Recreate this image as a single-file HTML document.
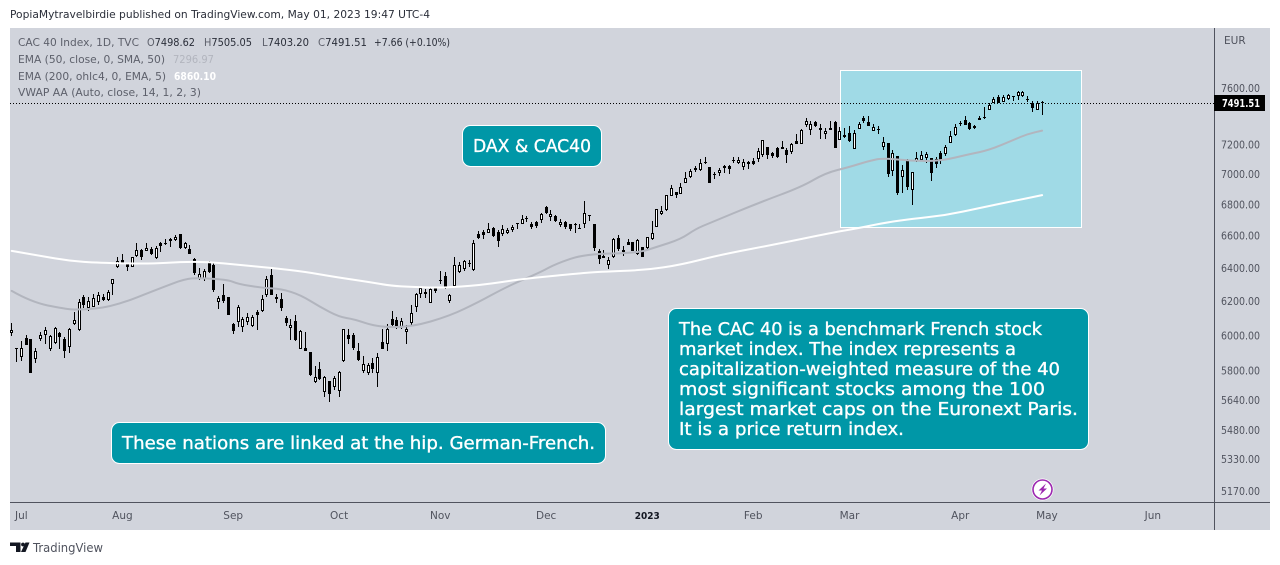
<!DOCTYPE html>
<html lang="en">
<head>
<meta charset="utf-8">
<title>CAC 40 Index chart</title>
<style>
html,body{margin:0;padding:0;background:#fff;width:1280px;height:565px;overflow:hidden}
svg{display:block}
text{font-family:"DejaVu Sans","Liberation Sans",sans-serif}
.callout-text{stroke:#fff;stroke-width:.35px}
</style>
</head>
<body>
<svg id="chart" xmlns="http://www.w3.org/2000/svg" width="1280" height="565" viewBox="0 0 1280 565">
  <defs><clipPath id="plot-clip"><rect x="10" y="28" width="1204" height="474"/></clipPath></defs>
  <text x="10" y="18" font-size="11" fill="#2a2e39" textLength="420" lengthAdjust="spacingAndGlyphs">PopiaMytravelbirdie published on TradingView.com, May 01, 2023 19:47 UTC-4</text>
  <rect x="10" y="28" width="1260" height="502" fill="#d1d4dc"/>
  <rect x="840.5" y="70.5" width="241" height="157" fill="#a0dae6" stroke="#fff" stroke-width="1"/>
  <g id="candles" clip-path="url(#plot-clip)"></g>
  <g id="lines" clip-path="url(#plot-clip)"></g>
  <line id="price-line" x1="10" x2="1214" stroke="#000" stroke-width="1" stroke-dasharray="1 2"/>
  <line x1="1214.5" x2="1214.5" y1="28" y2="530" stroke="#50535e"/>
  <line x1="10" x2="1270" y1="502.5" y2="502.5" stroke="#50535e"/>
  <g id="price-axis"></g>
  <g id="time-axis"></g>
  <text x="1224" y="44" font-size="10.5" fill="#50535e">EUR</text>
  <g id="price-tag"></g>

  <g font-size="11" fill="#5d606b">
    <text x="18" y="46" textLength="121" lengthAdjust="spacingAndGlyphs">CAC 40 Index, 1D, TVC</text>
    <text x="147" y="46" textLength="48" lengthAdjust="spacingAndGlyphs">O<tspan fill="#2a2e39">7498.62</tspan></text>
    <text x="204" y="46" textLength="48" lengthAdjust="spacingAndGlyphs">H<tspan fill="#2a2e39">7505.05</tspan></text>
    <text x="262" y="46" textLength="47" lengthAdjust="spacingAndGlyphs">L<tspan fill="#2a2e39">7403.20</tspan></text>
    <text x="318" y="46" textLength="49" lengthAdjust="spacingAndGlyphs">C<tspan fill="#2a2e39">7491.51</tspan></text>
    <text x="374" y="46" textLength="76" lengthAdjust="spacingAndGlyphs" fill="#2a2e39">+7.66 (+0.10%)</text>
    <text x="18" y="63" textLength="147" lengthAdjust="spacingAndGlyphs">EMA (50, close, 0, SMA, 50)</text>
    <text x="173" y="63" textLength="41" lengthAdjust="spacingAndGlyphs" fill="#b2b5be">7296.97</text>
    <text x="18" y="80" textLength="148" lengthAdjust="spacingAndGlyphs">EMA (200, ohlc4, 0, EMA, 5)</text>
    <text x="174" y="80" textLength="42" lengthAdjust="spacingAndGlyphs" fill="#ffffff" font-weight="bold">6860.10</text>
    <text x="18" y="96" textLength="183" lengthAdjust="spacingAndGlyphs">VWAP AA (Auto, close, 14, 1, 2, 3)</text>
  </g>

  <g>
    <rect x="462.5" y="125.5" width="139" height="41" rx="8" fill="#0097a7" stroke="#fff"/>
    <text class="callout-text" x="473" y="152" font-size="18" fill="#fff" textLength="118" lengthAdjust="spacingAndGlyphs">DAX &amp; CAC40</text>
  </g>
  <g>
    <rect x="111.5" y="422.5" width="494" height="41" rx="8" fill="#0097a7" stroke="#fff"/>
    <text class="callout-text" x="122" y="449" font-size="18" fill="#fff" textLength="473" lengthAdjust="spacingAndGlyphs">These nations are linked at the hip. German-French.</text>
  </g>
  <g font-size="18" fill="#fff">
    <rect x="668.5" y="308.5" width="420" height="141" rx="8" fill="#0097a7" stroke="#fff"/>
    <text class="callout-text" x="679" y="335" textLength="363" lengthAdjust="spacingAndGlyphs">The CAC 40 is a benchmark French stock</text>
    <text class="callout-text" x="679" y="355" textLength="337" lengthAdjust="spacingAndGlyphs">market index. The index represents a</text>
    <text class="callout-text" x="679" y="375" textLength="381" lengthAdjust="spacingAndGlyphs">capitalization-weighted measure of the 40</text>
    <text class="callout-text" x="679" y="395" textLength="366" lengthAdjust="spacingAndGlyphs">most significant stocks among the 100</text>
    <text class="callout-text" x="679" y="415" textLength="399" lengthAdjust="spacingAndGlyphs">largest market caps on the Euronext Paris.</text>
    <text class="callout-text" x="679" y="435" textLength="225" lengthAdjust="spacingAndGlyphs">It is a price return index.</text>
  </g>

  <g>
    <circle cx="1042.5" cy="489.5" r="11" fill="#fff"/>
    <circle cx="1042.5" cy="489.5" r="9.5" fill="#fff" stroke="#9c27b0" stroke-width="1.6"/>
    <polygon points="1046,483.5 1038.5,490.5 1042,490.5 1039.5,495.5 1047,488.5 1043.5,488.5" fill="#9c27b0"/>
  </g>

  <g>
    <polygon points="10,542.5 20.5,542.5 20.5,552 16,552 16,546 10,546" fill="#131722"/>
    <circle cx="23" cy="544.5" r="1.9" fill="#131722"/>
    <polygon points="25.5,542.5 29.5,542.5 25.5,552 21,552" fill="#131722"/>
    <text x="33" y="552" font-size="12" fill="#50535e" textLength="70" lengthAdjust="spacingAndGlyphs">TradingView</text>
  </g>
</svg>
<script>
var opens=[6011,5927,5875,5984,5979,5867,5981,6003,5920,5954,6011,5979,5931,6065,6028,6226,6159,6167,6196,6222,6204,6300,6407,6446,6424,6403,6471,6510,6506,6516,6463,6555,6553,6576,6574,6609,6524,6514,6452,6330,6330,6428,6418,6196,6238,6224,6065,6075,6046,6078,6054,6133,6139,6236,6357,6210,6210,6102,6044,6080,5923,5925,5905,5740,5808,5685,5742,5709,5690,5856,6000,6000,5909,5800,5790,5841,5790,5961,5948,6094,6090,6050,6017,6073,6167,6240,6252,6186,6276,6324,6350,6202,6288,6377,6391,6428,6387,6610,6622,6618,6648,6622,6610,6618,6637,6678,6675,6709,6673,6686,6699,6782,6720,6724,6667,6684,6671,6671,6646,6671,6729,6673,6504,6473,6414,6464,6582,6510,6560,6558,6485,6527,6520,6576,6656,6737,6763,6857,6879,6870,6942,6980,7040,7027,7080,7049,6998,7007,7054,7054,7094,7076,7049,7080,7087,7101,7130,7180,7139,7173,7180,7160,7146,7222,7201,7338,7303,7355,7315,7275,7315,7357,7233,7250,7280,7171,7310,7385,7357,7296,7310,7183,7210,7022,7119,6982,7085,6896,7089,7094,7110,7105,7101,7141,7137,7213,7264,7348,7371,7348,7327,7385,7390,7444,7494,7532,7501,7520,7540,7545,7540,7523,7489,7444,7498.62];
var highs=[6069,5927,5969,6000,5979,5925,6020,6046,6001,6050,6020,5992,6040,6133,6210,6238,6222,6242,6254,6242,6264,6334,6469,6485,6432,6469,6551,6514,6555,6530,6535,6559,6580,6582,6605,6609,6561,6543,6458,6397,6393,6442,6432,6230,6302,6224,6069,6176,6108,6131,6117,6147,6236,6350,6391,6242,6246,6112,6092,6117,6030,6019,5907,5826,5847,5771,5744,5771,5800,6034,6034,6015,5954,5882,5845,5869,5897,6034,6065,6139,6104,6098,6059,6176,6250,6282,6270,6276,6286,6381,6377,6242,6465,6438,6448,6448,6572,6631,6635,6678,6652,6635,6665,6646,6667,6680,6729,6724,6688,6695,6741,6789,6763,6733,6703,6693,6675,6678,6673,6821,6729,6675,6514,6510,6464,6582,6605,6535,6576,6562,6578,6531,6593,6690,6772,6789,6859,6925,6881,6942,7011,7031,7054,7099,7112,7049,7011,7038,7060,7062,7112,7112,7099,7085,7110,7178,7231,7183,7151,7180,7222,7178,7212,7273,7310,7383,7366,7364,7343,7313,7362,7366,7320,7315,7329,7301,7357,7399,7399,7341,7329,7254,7210,7162,7121,7060,7098,7016,7148,7155,7148,7107,7112,7153,7196,7294,7341,7366,7399,7357,7338,7399,7463,7489,7532,7547,7552,7557,7542,7581,7576,7542,7508,7504,7505.05];
var lows=[5996,5851,5856,5944,5788,5845,5969,5950,5912,5950,5922,5873,5901,6059,6026,6157,6143,6163,6178,6198,6202,6238,6401,6428,6383,6403,6469,6448,6502,6479,6456,6498,6539,6530,6568,6514,6514,6485,6353,6326,6322,6371,6256,6153,6186,6117,6007,6050,6020,6059,6046,6030,6137,6226,6236,6186,6143,6054,5973,5969,5920,5912,5771,5735,5749,5654,5631,5694,5654,5851,5950,5916,5854,5790,5775,5790,5709,5923,5912,6054,6038,6034,5950,6054,6137,6220,6220,6186,6250,6302,6274,6190,6286,6367,6383,6403,6383,6576,6576,6614,6593,6526,6597,6610,6622,6639,6673,6688,6644,6650,6682,6735,6690,6686,6656,6644,6629,6618,6639,6646,6690,6506,6420,6460,6391,6460,6506,6475,6539,6506,6477,6469,6518,6572,6656,6733,6759,6854,6841,6868,6938,6973,7014,7023,7069,6942,6967,6987,7009,7000,7076,7067,7027,7031,7060,7083,7117,7103,7108,7108,7169,7076,7132,7203,7201,7324,7268,7320,7240,7236,7301,7178,7233,7247,7217,7169,7308,7352,7329,7294,7273,7162,6982,6987,6863,6876,6894,6798,7083,7089,7076,6956,7040,7067,7123,7210,7259,7329,7334,7301,7308,7371,7380,7442,7489,7489,7499,7513,7504,7513,7535,7497,7428,7442,7403.20];
var closes=[6030,5920,5927,5944,5788,5909,6003,6028,5996,6040,5992,5912,6036,6086,6196,6176,6198,6216,6234,6206,6252,6334,6444,6432,6405,6469,6508,6469,6522,6487,6520,6537,6547,6564,6588,6520,6551,6487,6367,6359,6383,6377,6266,6218,6202,6117,6026,6165,6092,6104,6104,6119,6210,6330,6238,6222,6157,6069,6059,5973,6026,5912,5778,5764,5753,5764,5674,5758,5791,6034,5981,5927,5860,5836,5830,5811,5875,5923,6034,6059,6052,6080,6034,6127,6244,6276,6240,6270,6262,6318,6276,6238,6416,6414,6440,6422,6551,6582,6605,6641,6597,6568,6639,6635,6654,6671,6703,6703,6656,6661,6737,6746,6737,6690,6686,6654,6641,6667,6644,6741,6722,6520,6452,6462,6446,6576,6514,6498,6543,6506,6572,6469,6589,6618,6772,6755,6859,6905,6861,6916,6971,7018,7027,7071,7071,6942,6991,7025,7042,7036,7089,7092,7078,7069,7067,7157,7229,7130,7121,7112,7171,7126,7201,7205,7299,7362,7340,7331,7303,7292,7303,7178,7292,7264,7226,7280,7341,7364,7331,7322,7308,7215,7002,7139,6872,7025,6916,7011,7105,7126,7135,7009,7067,7094,7180,7257,7320,7341,7338,7310,7317,7373,7385,7477,7518,7494,7535,7547,7532,7574,7569,7518,7456,7489,7491.51];
var ema50Bars=[0,4,11,14,21,31,36,39,45,47,52,56,60,64,68,71,76,83,91,97,102,106,110,113,119,130,134,139,142,145,155,164,169,174,178,181,187,193,199,203,208,211,214];
var ema50Values=[6260,6194,6153,6147,6165,6278,6332,6338,6326,6302,6278,6272,6236,6165,6106,6094,6047,6047,6112,6194,6272,6326,6375,6424,6485,6491,6529,6578,6641,6680,6808,6914,7007,7047,7088,7108,7088,7088,7135,7162,7231,7273,7296.97];
var ema200Bars=[0,6,12,18,29,35,41,47,54,61,67,74,79,83,89,97,106,117,122,132,139,147,160,170,176,181,187,194,201,208,214];
var ema200Values=[6504,6473,6442,6430,6424,6436,6436,6418,6399,6375,6344,6314,6290,6284,6278,6293,6332,6363,6375,6387,6418,6479,6553,6616,6648,6680,6706,6730,6776,6822,6860.10];
var priceTicks=[7600,7200,7000,6800,6600,6400,6200,6000,5800,5640,5480,5330,5170];
var timeLabels=["Jul","Aug","Sep","Oct","Nov","Dec","2023","Feb","Mar","Apr","May","Jun"];
var timeBars=[2,23,46,68,89,111,132,154,174,197,215,237];
var lastPrice=7491.51;

var NS='http://www.w3.org/2000/svg';
function xScale(bar){return 11.7+4.815*bar;}
function yScale(price){return 88+1046*Math.log(7600/price);}
function make(tag,attrs,parent){
  var el=document.createElementNS(NS,tag);
  for(var k in attrs){el.setAttribute(k,attrs[k]);}
  parent.appendChild(el);
  return el;
}
function linePath(bars,values){
  var px=[],py=[];
  for(var j=0;j<bars.length;j++){px.push(xScale(bars[j]));py.push(yScale(values[j]));}
  var d='M'+px[0].toFixed(1)+' '+py[0].toFixed(1);
  for(var n=1;n<px.length-1;n++){
    var mx=(px[n]+px[n+1])/2,my=(py[n]+py[n+1])/2;
    d+=' Q'+px[n].toFixed(1)+' '+py[n].toFixed(1)+' '+mx.toFixed(1)+' '+my.toFixed(1);
  }
  d+=' L'+px[px.length-1].toFixed(1)+' '+py[py.length-1].toFixed(1);
  return d;
}

function drawCandles(){
  var candleGroup=document.getElementById('candles');
  for(var i=0;i<opens.length;i++){
    var cx=Math.floor(xScale(i));
    var up=closes[i]>=opens[i];
    var bodyTop=Math.round(yScale(Math.max(opens[i],closes[i])));
    var bodyBottom=Math.round(yScale(Math.min(opens[i],closes[i])));
    if(bodyBottom<=bodyTop){bodyBottom=bodyTop+1;}
    var hi=Math.round(yScale(highs[i]));
    var lo=Math.round(yScale(lows[i]));
    var wick=make('rect',{x:cx,y:hi,width:1,height:Math.max(1,lo-hi),fill:'#000'},candleGroup);
    
    
    var body=make('rect',{x:cx-1,y:bodyTop,width:3,height:bodyBottom-bodyTop,fill:'#000'},candleGroup);
    
    
    if(up&&bodyBottom-bodyTop>2){
      var inner=make('rect',{x:cx,y:bodyTop+1,width:1,height:bodyBottom-bodyTop-2,fill:'#fff'},candleGroup);
      
      
    }
  }
}

function drawLines(){
  var lineGroup=document.getElementById('lines');
  var ema50Line=make('path',{d:linePath(ema50Bars,ema50Values),fill:'none',stroke:'#b2b5be',
    'stroke-width':2,'stroke-linejoin':'round','stroke-linecap':'round'},lineGroup);
  
  
  var ema200Line=make('path',{d:linePath(ema200Bars,ema200Values),fill:'none',stroke:'#ffffff',
    'stroke-width':2,'stroke-linejoin':'round','stroke-linecap':'round'},lineGroup);
  
  
}

function drawAxes(){
  var lastY=Math.round(yScale(lastPrice))+0.5;
  var priceLine=document.getElementById('price-line');
  priceLine.setAttribute('y1',lastY);
  priceLine.setAttribute('y2',lastY);

  var priceAxis=document.getElementById('price-axis');
  for(var p=0;p<priceTicks.length;p++){
    var tick=make('text',{x:1221,y:yScale(priceTicks[p])+4,'font-size':10.5,fill:'#50535e',
      textLength:39,lengthAdjust:'spacingAndGlyphs'},priceAxis);
    
    
    tick.textContent=priceTicks[p].toFixed(2);
  }

  var timeAxis=document.getElementById('time-axis');
  for(var t=0;t<timeLabels.length;t++){
    var isYear=timeLabels[t]==='2023';
    var lbl=make('text',{x:xScale(timeBars[t]),y:519,'font-size':isYear?10:10.5,'text-anchor':'middle',
      fill:isYear?'#131722':'#50535e','font-weight':isYear?'bold':'normal'},timeAxis);
    
    
    if(isYear){
      lbl.setAttribute('textLength','25');
      lbl.setAttribute('lengthAdjust','spacingAndGlyphs');
    }
    lbl.textContent=timeLabels[t];
  }

  var tagGroup=document.getElementById('price-tag');
  var tagBox=make('rect',{x:1214,y:lastY-8.5,width:51,height:16,fill:'#000'},tagGroup);
  
  
  var tagText=make('text',{x:1222,y:lastY+3.5,'font-size':10.5,'font-weight':'bold',fill:'#fff',
    textLength:38,lengthAdjust:'spacingAndGlyphs'},tagGroup);
  
  
  tagText.textContent=lastPrice.toFixed(2);
}

drawCandles();
drawLines();
drawAxes();
</script>
</body>
</html>
